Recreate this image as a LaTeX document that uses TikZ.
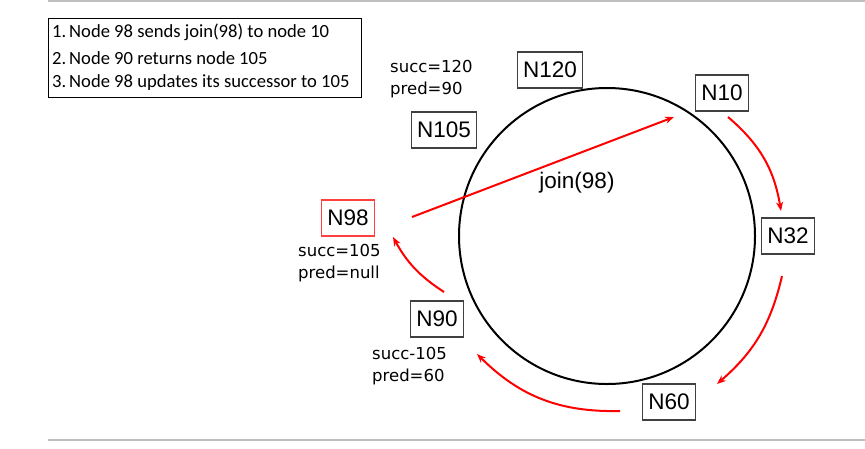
\documentclass[tikz,border=0pt]{standalone}
\usepackage{fontspec}
\usetikzlibrary{arrows.meta,calc}
\newfontfamily\nodefont{Liberation Sans}
\newfontfamily\comicfont{DejaVu Sans}
\newfontfamily\listfont{Carlito}
\begin{document}
\begin{tikzpicture}[x=1pt,y=-1pt,
  ring/.style={draw=black, line width=2pt, circle, inner sep=0pt, minimum size=296pt},
  peer/.style={draw=black!75, line width=1.2pt, font=\nodefont\fontsize{22.5}{27}\selectfont, inner xsep=5.5pt, inner ysep=0pt, minimum height=36pt},
  newpeer/.style={peer, draw=red!75},
  info/.style={font=\comicfont\fontsize{16.5}{22}\selectfont, align=left, anchor=west, inner sep=0pt},
  msg/.style={draw=red, line width=2pt, -{Stealth[length=9pt,width=7pt]}},
  listbox/.style={draw=black, line width=1pt, anchor=north west, minimum width=313pt, minimum height=79pt, inner sep=0pt},
  listitem/.style={font=\listfont\fontsize{18.6}{22}\selectfont, anchor=west, inner sep=0pt},
  rulecol/.style={draw=black!25, line width=1.5pt}
]
\useasboundingbox (0,0) rectangle (865,448);
% page rules
\draw[rulecol] (48,1) -- (865,1);
\draw[rulecol] (48,440) -- (865,440);
% list
\node[listbox] (list) at (48,18) {};
\node[listitem] (l1) at (52,32) {\makebox[17pt][l]{1.}Node 98 sends join(98) to node 10};
\node[listitem] (l2) at (52,58) {\makebox[17pt][l]{2.}Node 90 returns node 105};
\node[listitem] (l3) at (52,83) {\makebox[17pt][l]{3.}Node 98 updates its successor to 105};
% ring
\node[ring] (ring) at (607,236) {};
% peers
\node[peer] (n120) at (550,70) {N120};
\node[peer] (n10) at (722,93) {N10};
\node[peer] (n32) at (788,236) {N32};
\node[peer] (n60) at (669,402) {N60};
\node[peer] (n90) at (437,319) {N90};
\node[peer] (n105) at (444,130) {N105};
\node[newpeer] (n98) at (348,218) {N98};
% state labels
\node[info] (s105) at (390,79) {succ=120\\pred=90};
\node[info] (s98) at (298,263) {succ=105\\pred=null};
\node[info] (s90) at (372,366) {succ-105\\pred=60};
\node[font=\nodefont\fontsize{22.5}{27}\selectfont, inner sep=0pt] (join) at (577,183) {join(98)};
% arrow end points
\coordinate (a1) at (412,217); \coordinate (a2) at (674,117);
\coordinate (b1) at (728,117); \coordinate (b2) at (781,211);
\coordinate (c1) at (782,276); \coordinate (c2) at (717,384);
\coordinate (d1) at (620,411); \coordinate (d2) at (477,354);
\coordinate (e1) at (444,292); \coordinate (e2) at (393,237);
\draw[msg] (a1) -- (a2);
\draw[msg] (b1) to[bend left=20] (b2);
\draw[msg] (c1) to[bend left=18] (c2);
\draw[msg] (d1) to[bend left=23] (d2);
\draw[msg] (e1) to[bend left=14] (e2);
\end{tikzpicture}
\end{document}
